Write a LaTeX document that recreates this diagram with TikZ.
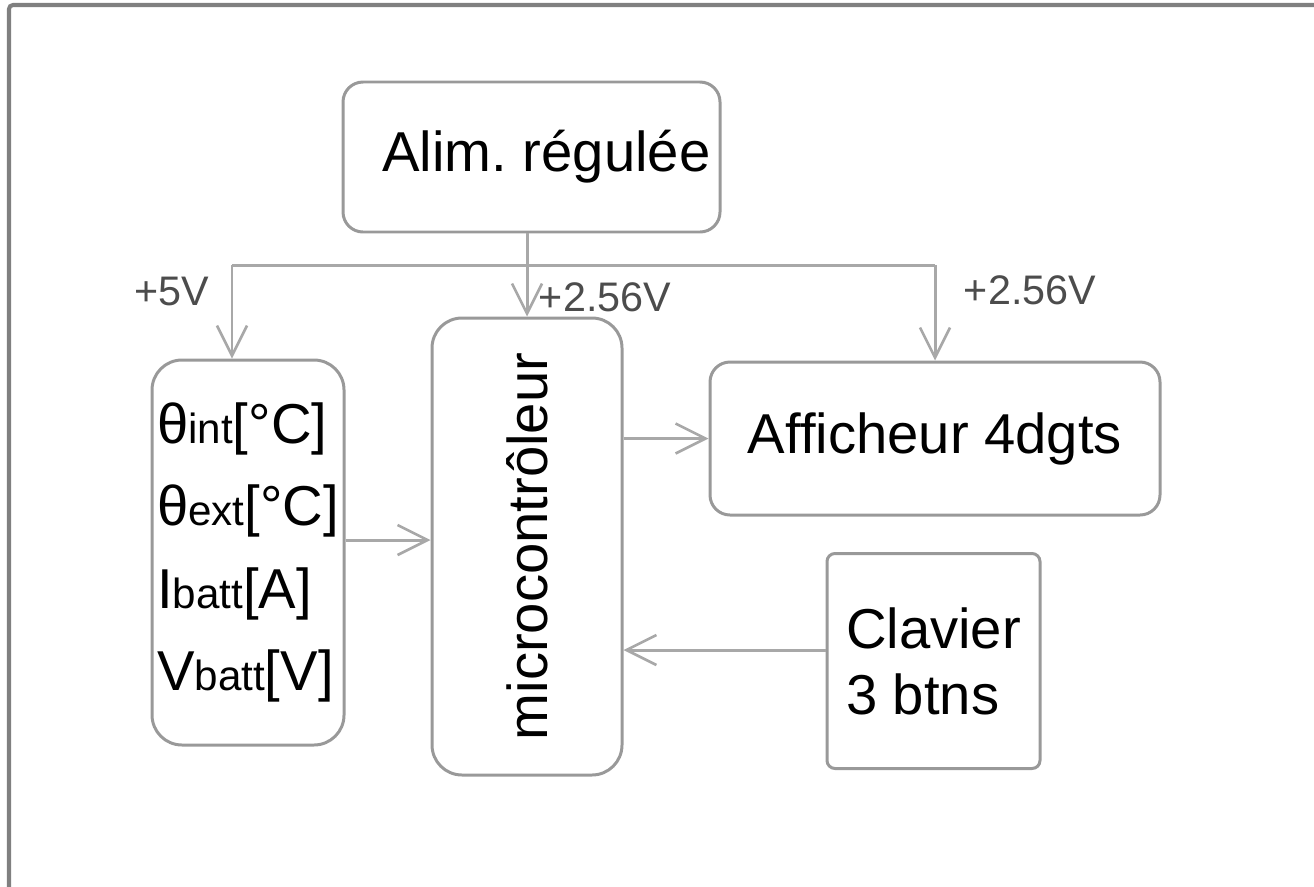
\documentclass[tikz,border=0pt]{standalone}
\usepackage{fontspec}
\setmainfont{Liberation Sans}
\usetikzlibrary{arrows.meta}
\definecolor{rimgray}{gray}{0.6}
\definecolor{wiregray}{gray}{0.66}
\definecolor{framegray}{gray}{0.5}
\definecolor{voltgray}{gray}{0.3}
\newcommand{\lowtxt}[1]{{\fontsize{24}{24}\selectfont #1}}
\frenchspacing

\begin{document}
\begin{tikzpicture}[
	blok/.style={draw=rimgray,line width=1.7pt,fill=white,font=\fontsize{32}{38}\selectfont},
	wire/.style={draw=wiregray,line width=1.7pt,-{Straight Barb[length=0.6cm,width=0.6cm,line width=1.5pt]}},
	volt/.style={text=voltgray,font=\fontsize{23.5}{28}\selectfont,inner sep=0pt}]
	\useasboundingbox (0,0) rectangle (26.28,-17.72);
	\draw [framegray,line width=2.3pt,rounded corners=0.08cm] (0.18,-17.9) -- (0.18,-0.1) -- (26.4,-0.1);

	\node [blok,rounded corners=0.4cm,minimum width=7.54cm,minimum height=3cm] (alim) at (10.63,-3.14) {\hspace*{0.6cm}Alim. régulée};
	\node [blok,rounded corners=0.6cm,minimum width=3.8cm,minimum height=9.14cm] (micro) at (10.54,-10.93) {\rotatebox{90}{microcontrôleur}};
	\node [blok,rounded corners=0.6cm,minimum width=3.84cm,minimum height=7.7cm,inner xsep=0.1cm,align=left,font=\fontsize{32}{47}\selectfont,anchor=east] (sens) at ([xshift=-1.7cm,yshift=-0.12cm]micro.west) {θ\lowtxt{int}[°C]\\θ\lowtxt{ext}[°C]\\I\lowtxt{batt}[A]\\V\lowtxt{batt}[V]};
	\node [blok,rounded corners=0.4cm,minimum width=9cm,minimum height=3.06cm] (affich) at (18.7,-8.77) {Afficheur 4dgts};
	\node [blok,rounded corners=0.16cm,minimum width=4.26cm,minimum height=4.3cm,align=left,font=\fontsize{32}{37.5}\selectfont] (clav) at (18.67,-13.22) {Clavier\\3 btns};

	\coordinate (busl) at (4.64,-5.3);
	\coordinate (busr) at (affich.north |- busl);
	\coordinate (s1) at ([yshift=0.25cm]sens.east);
	\coordinate (k1) at ([yshift=0.22cm]clav.west);
	\draw [draw=wiregray,line width=1.7pt] (busl) -- (busr);
	\draw [wire] (alim.south -| micro.north) -- (micro.north);
	\draw [wire] (busl) -- (busl |- sens.north);
	\draw [wire] (busr) -- (affich.north);
	\draw [wire] (s1) -- (s1 -| micro.west);
	\draw [wire] (affich.west -| micro.east) -- (affich.west);
	\draw [wire] (k1) -- (k1 -| micro.east);

	\node [volt] (v5) at (3.44,-5.82) {+5V};
	\node [volt] (v256a) at (12.1,-5.94) {+2.56V};
	\node [volt] (v256b) at (20.6,-5.8) {+2.56V};
\end{tikzpicture}
\end{document}
